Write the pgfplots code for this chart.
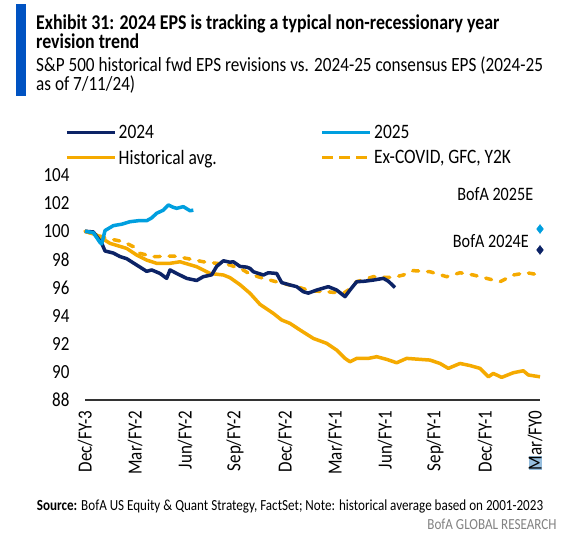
\documentclass[border=0pt]{standalone}
\usepackage{fontspec}
\setmainfont{Carlito}[FakeStretch=0.85]
\usepackage{pgfplots}
\pgfplotsset{compat=1.18}
\definecolor{navy}{RGB}{12,35,102}
\definecolor{lblue}{RGB}{0,159,223}
\definecolor{gold}{RGB}{245,170,0}
\definecolor{barblue}{RGB}{0,83,194}
\definecolor{hlblue}{RGB}{150,190,222}
\definecolor{graytxt}{RGB}{130,130,130}
\begin{document}
\begin{tikzpicture}
\useasboundingbox (0pt,0pt) rectangle (575pt,-542pt);
\fill[white] (0pt,0pt) rectangle (575pt,-542pt);
\fill[barblue] (16pt,-4pt) rectangle (26pt,-96pt);
\node[anchor=base west, inner sep=0pt, font=\fontsize{21}{24}\selectfont\bfseries] at (36pt,-29.3pt) {Exhibit 31: 2024 EPS is tracking a typical non-recessionary year};
\node[anchor=base west, inner sep=0pt, font=\fontsize{21}{24}\selectfont\bfseries] at (36pt,-48.3pt) {revision trend};
\node[anchor=base west, inner sep=0pt, font=\fontsize{20.2}{22}\selectfont] at (36pt,-71.7pt) {S\&P 500 historical fwd EPS revisions vs. 2024-25 consensus EPS (2024-25};
\node[anchor=base west, inner sep=0pt, font=\fontsize{20.2}{22}\selectfont] at (36pt,-90.5pt) {as of 7/11/24)};
\node[anchor=base west, inner sep=0pt, font=\fontsize{15.4}{18}\selectfont] at (36.7pt,-510pt) {\textbf{Source:} BofA US Equity \& Quant Strategy, FactSet; Note: historical average based on 2001-2023};
\node[anchor=base east, inner sep=0pt, font=\fontsize{15.4}{18}\selectfont, text=graytxt] at (556.7pt,-529pt) {BofA GLOBAL RESEARCH};
\begin{axis}[
  at={(85pt,-400pt)}, anchor=south west, scale only axis,
  width=455pt, height=225pt,
  xmin=0, xmax=27.3, ymin=88, ymax=104,
  clip=false,
  axis x line*=bottom, axis y line*=left,
  x axis line style={-, draw=black!80, line width=1.3pt},
  y axis line style={draw=none},
  major tick length=0pt,
  xtick={0,3,6,9,12,15,18,21,24,27},
  xticklabels={Dec/FY-3,Mar/FY-2,Jun/FY-2,Sep/FY-2,Dec/FY-2,Mar/FY-1,Jun/FY-1,Sep/FY-1,Dec/FY-1,{{\setlength{\fboxsep}{0pt}\colorbox{hlblue}{M}}ar/FY0}},
  ytick={88,90,...,104},
  xticklabel style={rotate=90, anchor=east, font=\fontsize{20}{22}\selectfont},
  yticklabel style={font=\fontsize{20}{22}\selectfont},
  xticklabel shift=7pt,
  yticklabel shift=12pt,
  /pgf/number format/assume math mode=true,
  legend columns=2,
  legend cell align=left,
  legend style={at={(-0.044,1.232)}, anchor=north west, draw=none, fill=none,
    font=\fontsize{20.5}{22}\selectfont, inner sep=0pt, row sep=6pt,
    nodes={inner sep=2pt}},
]
\addlegendimage{legend image code/.code={\draw[navy,line width=3.5pt] (0pt,0pt) -- (48pt,0pt);}}
\addlegendentry{\makebox[200pt][l]{2024}}
\addlegendimage{legend image code/.code={\draw[lblue,line width=3.5pt] (0pt,0pt) -- (48pt,0pt);}}
\addlegendentry{2025}
\addlegendimage{legend image code/.code={\draw[gold,line width=3.5pt] (0pt,0pt) -- (48pt,0pt);}}
\addlegendentry{\makebox[200pt][l]{Historical avg.}}
\addlegendimage{legend image code/.code={\draw[gold,line width=3.5pt,dash pattern=on 11pt off 6pt] (0pt,0pt) -- (48pt,0pt);}}
\addlegendentry{Ex-COVID, GFC, Y2K}

% Historical avg
\addplot[forget plot, gold, line width=3.5pt, line join=round] coordinates {
(0,100) (0.7,99.73) (1.5,99.14) (2.5,98.78) (3.1,98.31) (3.7,97.95) (4.3,97.72) (5.1,97.72) (5.7,97.83) (6.7,97.48) (7.5,97.0) (8.3,96.89) (8.7,96.7) (9.3,96.2) (9.9,95.59) (10.5,94.8) (11.3,94.16) (11.8,93.69) (12.3,93.45) (12.9,92.98) (13.7,92.38) (14.5,92.03) (15.1,91.55) (15.6,90.96) (15.9,90.72) (16.3,90.96) (17.0,90.96) (17.5,91.08) (18.1,90.89) (18.7,90.65) (19.3,90.96) (20.0,90.9) (20.7,90.84) (21.3,90.6) (21.8,90.25) (22.5,90.6) (23.1,90.45) (23.7,90.25) (24.2,89.65) (24.5,89.89) (25.0,89.61) (25.7,89.94) (26.3,90.08) (26.6,89.78) (27.3,89.65)
};
% Ex-COVID, GFC, Y2K
\addplot[forget plot, gold, line width=3.5pt, line cap=round, dash pattern=on 6pt off 9pt] coordinates {
(0,100) (1.3,99.5) (2.3,99.26) (2.9,98.9) (3.3,98.43) (4.1,98.19) (5.3,98.24) (6.1,98.07) (7.1,97.83) (7.9,97.72) (8.7,97.6) (9.5,97.24) (9.9,96.95) (10.7,96.65) (11.7,96.34) (12.7,96.06) (13.5,95.77) (14.5,95.7) (15.5,95.59) (15.8,95.82) (16.3,96.41) (17.3,96.77) (18.1,96.72) (18.5,96.72) (19.1,96.89) (19.7,97.2) (20.7,97.12) (21.7,96.77) (22.5,97.05) (23.3,96.89) (24.1,96.65) (24.9,96.41) (25.7,96.89) (26.5,97.05) (27.3,96.89)
};
% 2024
\addplot[forget plot, navy, line width=3.5pt, line join=round] coordinates {
(0,100) (0.5,99.95) (1.0,99.15) (1.2,98.6) (1.7,98.45) (2.1,98.2) (2.5,98.05) (3.1,97.6) (3.7,97.15) (4.0,97.25) (4.5,97.0) (4.9,96.65) (5.1,97.25) (5.5,97.0) (6.1,96.65) (6.7,96.5) (7.1,96.77) (7.6,96.9) (7.9,97.5) (8.3,97.9) (8.7,97.8) (8.9,97.83) (9.3,97.5) (9.7,97.45) (9.9,97.36) (10.1,97.12) (10.7,96.89) (11.0,97.05) (11.5,97.0) (11.8,96.35) (12.3,96.18) (12.7,96.06) (13.1,95.7) (13.4,95.6) (13.9,95.82) (14.6,96.06) (15.1,95.82) (15.6,95.35) (15.9,95.82) (16.3,96.41) (16.8,96.45) (17.3,96.53) (17.9,96.65) (18.2,96.45) (18.6,96.0)
};
% 2025
\addplot[forget plot, lblue, line width=3.5pt, line join=round] coordinates {
(0,100) (0.5,99.9) (0.9,99.2) (1.0,99.1) (1.2,100.05) (1.7,100.4) (2.2,100.5) (2.7,100.68) (3.2,100.75) (3.7,100.75) (4.0,100.95) (4.3,101.28) (4.7,101.5) (5.0,101.87) (5.3,101.7) (5.5,101.63) (5.9,101.75) (6.3,101.46) (6.5,101.5)
};
% BofA estimates
\addplot[forget plot, only marks, mark=diamond*, mark size=4.5pt, lblue] coordinates {(27.3,100.16)};
\addplot[forget plot, only marks, mark=diamond*, mark size=4.5pt, navy] coordinates {(27.3,98.67)};
\node[anchor=base east, inner sep=0pt, font=\fontsize{19}{22}\selectfont] at (axis cs:26.9,102.22) {BofA 2025E};
\node[anchor=base east, inner sep=0pt, font=\fontsize{19}{22}\selectfont] at (axis cs:26.64,98.86) {BofA 2024E};
\end{axis}
\end{tikzpicture}
\end{document}
